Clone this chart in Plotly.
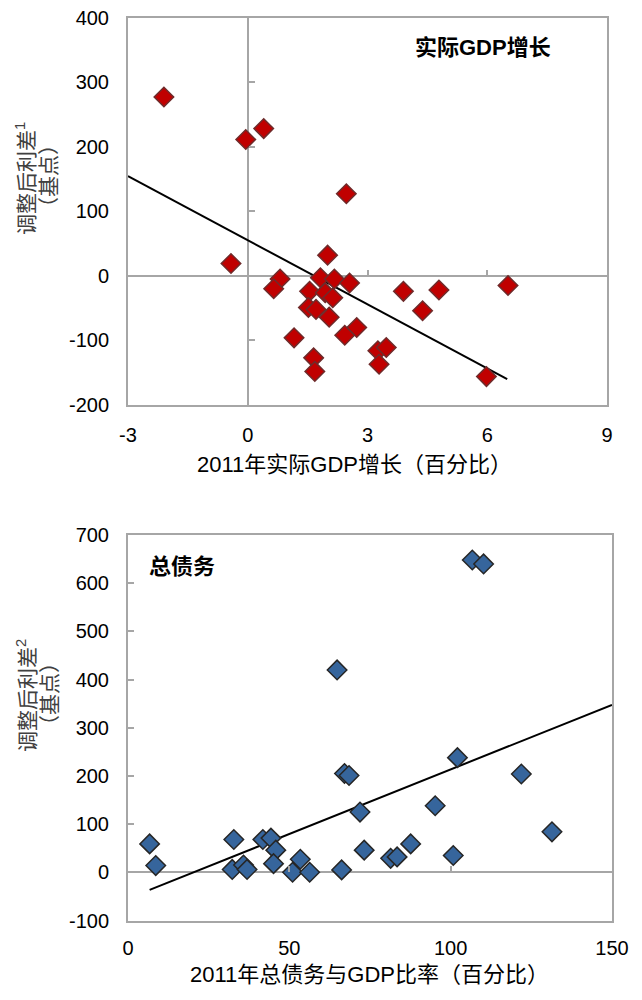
import plotly.graph_objects as go

# ---------------- data ----------------
# Top panel: real GDP growth vs adjusted spread
gdp_growth = [-2.10, -0.05, 0.40, 2.47, -0.42, 0.81, 0.65, 2.00, 1.82, 2.17,
              2.55, 1.55, 1.94, 2.13, 1.52, 1.71, 2.04, 2.73, 2.43, 1.16,
              1.65, 1.68, 3.26, 3.47, 3.29, 3.90, 4.79, 4.38, 6.52, 5.98]
spread_top = [277, 211, 228, 127, 19, -5, -20, 32, -3, -5,
              -11, -24, -26, -34, -49, -52, -64, -80, -92, -96,
              -127, -148, -116, -111, -137, -24, -22, -54, -15, -156]
trend_top_x = [-3.0, 6.5]
trend_top_y = [154.5, -160.0]

# Bottom panel: gross debt vs adjusted spread
gross_debt = [106.7, 110.2, 64.8, 6.7, 8.6, 32.8, 32.3, 35.8, 36.9, 41.8,
              44.3, 45.8, 45.1, 53.4, 51.0, 56.3, 66.2, 67.1, 68.5, 71.9,
              73.2, 81.4, 83.4, 87.6, 95.2, 100.8, 102.1, 121.9, 131.4]
spread_bot = [648, 640, 420, 59, 14, 68, 6, 15, 6, 68,
              71, 46, 18, 27, 0, 0, 5, 205, 201, 125,
              46, 29, 32, 59, 138, 35, 238, 204, 84]
trend_bot_x = [6.7, 150.0]
trend_bot_y = [-36.5, 347.5]

top_xticks = [-3, 0, 3, 6, 9]
top_yticks = [-200, -100, 0, 100, 200, 300, 400]
bot_xticks = [0, 50, 100, 150]
bot_yticks = [-100, 0, 100, 200, 300, 400, 500, 600, 700]

top_xrange = [-3, 9]
top_yrange = [-200, 400]
bot_xrange = [0, 150]
bot_yrange = [-100, 700]

# ---------------- layout geometry ----------------
# the page body has an 8px margin, so the figure starts at (8, 8)
OFF = 8
W, H = 642 - OFF, 1000 - 2 * OFF

def px(x):
    return (x - OFF) / W

def py(y):
    return 1 - (y - OFF) / H

top_xdom = [px(128), px(607)]
top_ydom = [py(405), py(17.5)]
bot_xdom = [px(128), px(612)]
bot_ydom = [py(920.5), py(535)]

def frac(v, rng, dom):
    return dom[0] + (v - rng[0]) / (rng[1] - rng[0]) * (dom[1] - dom[0])

def labels(vals):
    return [str(v) for v in vals]

FONT = "Liberation Sans, Arial, Noto Sans CJK SC, sans-serif"
GRAY = "#a6a6a6"

fig = go.Figure()

fig.add_trace(go.Scatter(
    x=trend_top_x, y=trend_top_y, mode="lines", xaxis="x", yaxis="y",
    line=dict(color="black", width=2), showlegend=False, hoverinfo="skip"))
fig.add_trace(go.Scatter(
    x=gdp_growth, y=spread_top, mode="markers", xaxis="x", yaxis="y",
    marker=dict(symbol="diamond", size=15, color="#c00000",
                line=dict(color="#6e2b2b", width=1.5)),
    showlegend=False))

fig.add_trace(go.Scatter(
    x=trend_bot_x, y=trend_bot_y, mode="lines", xaxis="x2", yaxis="y2",
    line=dict(color="black", width=2), showlegend=False, hoverinfo="skip"))
fig.add_trace(go.Scatter(
    x=gross_debt, y=spread_bot, mode="markers", xaxis="x2", yaxis="y2",
    marker=dict(symbol="diamond", size=15, color="#36659c",
                line=dict(color="#262626", width=1.5)),
    showlegend=False))

tickfont = dict(family=FONT, size=20, color="black")

main_axis = dict(showline=True, mirror=True, linecolor=GRAY, linewidth=2,
                 showgrid=False, ticks="", tickfont=tickfont, automargin=False,
                 ticklabeloverflow="allow",
                 zerolinecolor=GRAY, zerolinewidth=2, fixedrange=True)

tick_axis = dict(showline=False, showgrid=False, zeroline=False, automargin=False,
                 showticklabels=False, ticks="inside", ticklen=6,
                 tickwidth=2, tickcolor=GRAY, anchor="free", fixedrange=True)

fig.update_layout(
    width=W, height=H,
    margin=dict(l=0, r=0, t=0, b=0, autoexpand=False),
    paper_bgcolor="white", plot_bgcolor="white",
    font=dict(family=FONT, color="black"),
    xaxis=dict(main_axis, domain=top_xdom, range=top_xrange, anchor="y",
               tickvals=top_xticks, ticktext=labels(top_xticks),
               zeroline=True, ticklabelstandoff=11),
    yaxis=dict(main_axis, domain=top_ydom, range=top_yrange, anchor="x",
               tickvals=top_yticks, ticktext=labels(top_yticks),
               zeroline=True, ticklabelstandoff=13),
    xaxis3=dict(tick_axis, overlaying="x", range=top_xrange, tickvals=top_xticks,
                position=frac(0, top_yrange, top_ydom)),
    yaxis3=dict(tick_axis, overlaying="y", range=top_yrange, tickvals=top_yticks,
                position=frac(0, top_xrange, top_xdom)),
    xaxis2=dict(main_axis, domain=bot_xdom, range=bot_xrange, anchor="y2",
                tickvals=bot_xticks, ticktext=labels(bot_xticks),
                zeroline=False, ticklabelstandoff=8),
    yaxis2=dict(main_axis, domain=bot_ydom, range=bot_yrange, anchor="x2",
                tickvals=bot_yticks, ticktext=labels(bot_yticks),
                zeroline=True, ticklabelstandoff=13,
                ticks="inside", ticklen=6, tickwidth=2, tickcolor=GRAY),
    xaxis4=dict(tick_axis, overlaying="x2", range=bot_xrange, tickvals=bot_xticks,
                position=frac(0, bot_yrange, bot_ydom)),
)

# dummy traces so the tick overlay axes get drawn
fig.add_trace(go.Scatter(x=[None], y=[None], xaxis="x3", yaxis="y3",
                         showlegend=False, hoverinfo="skip"))
fig.add_trace(go.Scatter(x=[None], y=[None], xaxis="x4", yaxis="y2",
                         showlegend=False, hoverinfo="skip"))

ann_title = dict(family=FONT, size=22, color="black")
ytitle_font = dict(family=FONT, size=21, color="#404040")
xtitle_font = dict(family=FONT, size=22, color="black")

def note(text, x, y, font, angle=0):
    fig.add_annotation(text=text, xref="paper", yref="paper", x=px(x), y=py(y),
                       xanchor="center", yanchor="middle", textangle=angle,
                       showarrow=False, font=font)

note("<b>实际GDP增长</b>", 483, 47, ann_title)
note("<b>总债务</b>", 182, 566, ann_title)
note("调整后利差<sup>1</sup>", 25, 179, ytitle_font, -90)
note("（基点）", 48, 176, ytitle_font, -90)
note("调整后利差<sup>2</sup>", 26, 696, ytitle_font, -90)
note("（基点）", 49, 694, ytitle_font, -90)
note("2011年实际GDP增长（百分比）", 354, 465, xtitle_font)
note("2011年总债务与GDP比率（百分比）", 369, 974, xtitle_font)

fig.write_html("out.html")
